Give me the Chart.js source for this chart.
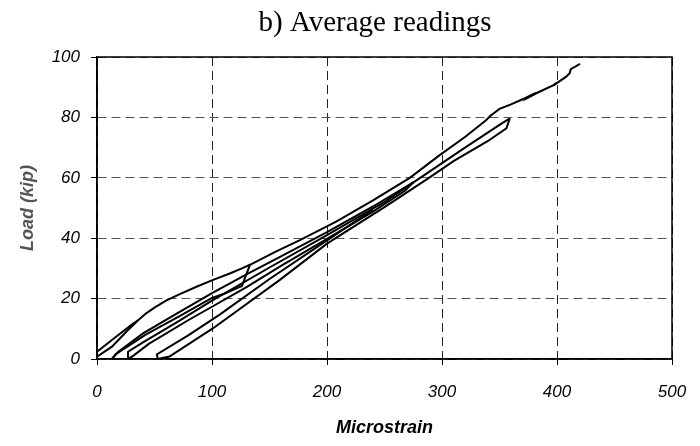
<!DOCTYPE html>
<html>
<head>
<meta charset="utf-8">
<script src="https://cdn.jsdelivr.net/npm/chart.js@4/dist/chart.umd.min.js"></script>
<style>
  html, body { margin: 0; padding: 0; background: #fff; }
  #wrap { width: 700px; height: 446px; }
</style>
</head>
<body>
<div id="wrap"><canvas id="loadChart"></canvas></div>
<script>
// Average readings - load vs microstrain
// each branch: [microstrain, load (kip)]
const firstLoad = [[0, 0.8], [13, 4.1], [27, 9.6], [36, 12.9]];

const envelope = [
    [0, 2.4], [16, 7.2], [30, 11.3], [36, 12.9], [43, 15.2], [50, 17], [60, 19.3],
    [72, 21.5], [87, 24], [101, 26.2], [116, 28.4], [126, 30], [133, 31.2],
    [155, 35.5], [176, 39.3], [208, 45.5], [240, 52.5], [272, 60], [298, 67.5],
    [320, 73.5], [338, 79], [343, 80.8], [341, 80.2], [350, 82.8], [360, 84.3],
    [370, 86], [377, 87.3], [375, 86.6], [382, 88], [397, 90.7], [399, 91.3],
    [397, 90.6], [408, 93.5], [411, 94.6], [412, 96], [420, 97.7]
];

const unload2 = [[133, 31.2], [126, 24.2], [110, 21.5], [100, 20.2], [71, 14], [42, 8], [16, 1.5], [13, 0]];

const load3 = [
    [13, 0], [18, 2.2], [40, 8.5], [70, 15.2], [100, 21.8], [130, 28], [160, 34],
    [200, 42], [240, 50.5], [262, 55.5], [275, 58.5]
];

const unload3 = [
    [275, 58.5], [268, 55.8], [240, 48.8], [200, 39.8], [160, 30.8], [130, 23.8],
    [100, 17.3], [80, 13], [45, 5], [32, 1.2], [27, 0]
];

const load4 = [
    [27, 0], [27, 2.4], [40, 5.5], [70, 12.3], [100, 19.3], [150, 30.3], [200, 41],
    [250, 52], [281, 60], [320, 70], [350, 77.5], [359, 79.7]
];

const unload4 = [
    [359, 79.7], [356, 76.4], [340, 72.2], [310, 65.5], [288, 59.8], [250, 50.3],
    [200, 38.2], [159, 26.2], [101, 10.2], [63, 0.8], [53, 0]
];

const lastLoad = [[53, 0], [52, 1.5], [80, 8], [107, 14.8], [150, 26.5], [200, 39.3], [240, 49.5]];

const branches = [firstLoad, envelope, unload2, load3, unload3, load4, unload4, lastLoad];

// titre + cadre du graphique
const framePlugin = {
    id: "frame",
    beforeDatasetsDraw(chart) {
        const { ctx, chartArea: a } = chart;
        ctx.save();
        ctx.strokeStyle = "#000";
        ctx.lineWidth = 1.5;
        ctx.strokeRect(a.left, a.top, a.right - a.left, a.bottom - a.top);
        ctx.restore();
    },
    afterDraw(chart) {
        const ctx = chart.ctx;
        ctx.save();
        ctx.fillStyle = "#000";
        ctx.font = "29px 'Liberation Serif', 'Times New Roman', serif";
        ctx.textAlign = "center";
        ctx.textBaseline = "middle";
        ctx.fillText("b) Average readings", 375, 23);
        ctx.restore();
    }
};

const tickFont = { family: "'Liberation Sans', Arial, sans-serif", size: 17, style: "italic" };

new Chart(document.getElementById("loadChart"), {
    type: "scatter",
    data: {
        datasets: branches.map((b, i) => ({
            label: "b" + i,
            data: b.map(p => ({ x: p[0], y: p[1] })),
            showLine: true,
            borderColor: "#000",
            borderWidth: 2,
            pointRadius: 0,
            tension: 0
        }))
    },
    options: {
        responsive: true,
        maintainAspectRatio: false,
        animation: false,
        layout: { padding: { top: 57, left: 0, right: 28, bottom: 0 } },
        plugins: {
            legend: { display: false },
            tooltip: { enabled: false },
            title: { display: false }
        },
        scales: {
            x: {
                type: "linear",
                min: 0, max: 500,
                afterFit: s => { s.height = 87; s.paddingLeft = 0; s.paddingRight = 0; },
                ticks: { stepSize: 100, color: "#000", font: tickFont, padding: 17, maxRotation: 0 },
                grid: { color: "#222", lineWidth: 1, tickLength: 6, tickColor: "#000", tickWidth: 1 },
                border: { display: true, color: "#000", width: 1.5, dash: [9, 5] },
                title: {
                    display: true, text: "Microstrain", color: "#000",
                    font: { family: "'Liberation Sans', Arial, sans-serif", size: 18, style: "italic", weight: "bold" },
                    padding: { top: 10, bottom: 7 }
                }
            },
            y: {
                min: 0, max: 100,
                afterFit: s => { s.width = 97; s.paddingTop = 0; s.paddingBottom = 0; },
                ticks: { stepSize: 20, color: "#000", font: tickFont, padding: 11 },
                grid: { color: "#555", lineWidth: 1, tickLength: 6, tickColor: "#000", tickWidth: 1 },
                border: { display: true, color: "#000", width: 1.5, dash: [9, 5] },
                title: {
                    display: true, text: "Load (kip)", color: "#555",
                    font: { family: "'Liberation Sans', Arial, sans-serif", size: 18, style: "italic", weight: "bold" },
                    padding: { top: 17, bottom: 0 }
                }
            }
        }
    },
    plugins: [framePlugin]
});
</script>
</body>
</html>
